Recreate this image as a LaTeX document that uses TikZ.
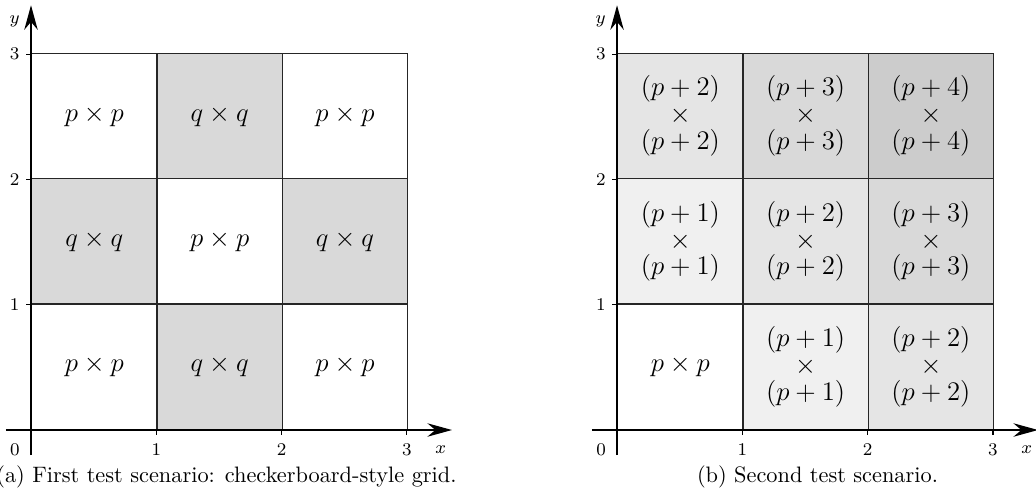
\documentclass[tikz,border=0pt]{standalone}
\usetikzlibrary{arrows.meta}
\colorlet{lvA}{black!6}
\colorlet{lvB}{black!10}
\colorlet{lvC}{black!15}
\colorlet{lvD}{black!20}
\begin{document}
\begin{tikzpicture}[x=56.1pt,y=56.1pt,
  cell/.style={draw=black!85, line width=0.6pt, minimum size=56.1pt, inner sep=0pt, anchor=south west, font=\large},
  axisline/.style={line width=0.9pt, -{Stealth[length=11pt,width=6pt]}},
  tickmark/.style={line width=0.5pt},
  ticklab/.style={font=\footnotesize, inner sep=0pt},
  captext/.style={font=\normalsize, inner sep=0pt}]
\useasboundingbox (-0.2474,-0.5427) rectangle (8.0207,3.4318);
% ---------- panel (a)
\foreach \i in {0,1,2} \foreach \j in {0,1,2} {
  \pgfmathtruncatemacro\s{mod(\i+\j,2)}
  \ifnum\s=1
    \node[cell, fill=black!15] (a\i\j) at (\i,\j) {$q\times q$};
  \else
    \node[cell] (a\i\j) at (\i,\j) {$p\times p$};
  \fi
}
\coordinate (axs) at (-0.2,0);
\coordinate (axe) at (3.36,0);
\coordinate (ays) at (0,-0.2);
\coordinate (aye) at (0,3.39);
\draw[axisline] (axs) -- (axe);
\draw[axisline] (ays) -- (aye);
\foreach \k in {1,2,3} {
  \draw[tickmark] (\k,0) -- (\k,-0.04);
  \draw[tickmark] (0,\k) -- (-0.04,\k);
  \node[ticklab] (axl\k) at (\k,-0.155) {\k};
  \node[ticklab] (ayl\k) at (-0.13,\k) {\k};
}
\node[ticklab] (ao) at (-0.128,-0.155) {0};
\node[ticklab] (ax) at (3.27,-0.16) {$x$};
\node[ticklab] (ay) at (-0.13,3.26) {$y$};
\node[captext] (capa) at (1.56,-0.375) {(a) First test scenario: checkerboard-style grid.};
% ---------- panel (b)
\begin{scope}[shift={(4.677,0)}]
\foreach \i in {0,1,2} \foreach \j in {0,1,2} {
  \pgfmathtruncatemacro\lv{\i+\j}
  \ifnum\lv=0
    \node[cell] (b\i\j) at (\i,\j) {$p\times p$};
  \else
    \ifcase\lv\or\def\fc{lvA}\or\def\fc{lvB}\or\def\fc{lvC}\or\def\fc{lvD}\fi
    \node[cell, fill=\fc, align=center] (b\i\j) at (\i,\j) {$(p+\lv)$\\[-2pt]$\times$\\[-2pt]$(p+\lv)$};
  \fi
}
\coordinate (bxs) at (-0.2,0);
\coordinate (bxe) at (3.36,0);
\coordinate (bys) at (0,-0.2);
\coordinate (bye) at (0,3.39);
\draw[axisline] (bxs) -- (bxe);
\draw[axisline] (bys) -- (bye);
\foreach \k in {1,2,3} {
  \draw[tickmark] (\k,0) -- (\k,-0.04);
  \draw[tickmark] (0,\k) -- (-0.04,\k);
  \node[ticklab] (bxl\k) at (\k,-0.155) {\k};
  \node[ticklab] (byl\k) at (-0.13,\k) {\k};
}
\node[ticklab] (bo) at (-0.128,-0.155) {0};
\node[ticklab] (bx) at (3.27,-0.16) {$x$};
\node[ticklab] (by) at (-0.13,3.26) {$y$};
\node[captext] (capb) at (1.6,-0.375) {(b) Second test scenario.};
\end{scope}
\end{tikzpicture}
\end{document}
